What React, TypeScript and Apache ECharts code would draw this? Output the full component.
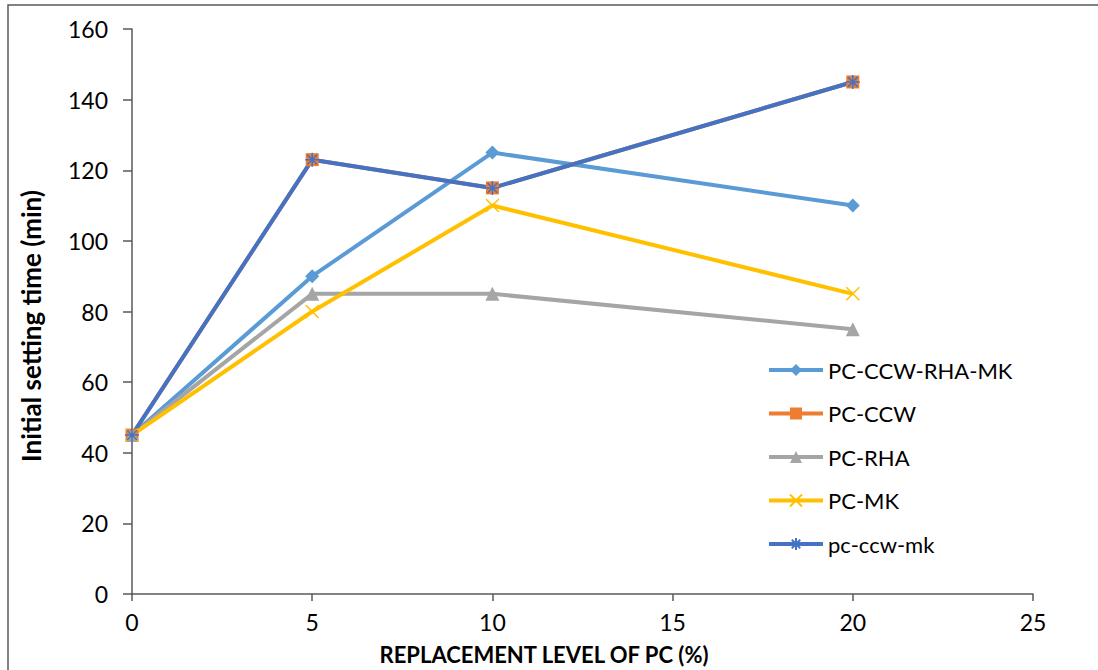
import React, { useEffect, useRef } from "react";
import * as echarts from "echarts";

const replacementLevels = [0, 5, 10, 20];
const seriesNames = ["PC-CCW-RHA-MK", "PC-CCW", "PC-RHA", "PC-MK", "pc-ccw-mk"];
const pcCcwRhaMk = [45, 90, 125, 110];
const pcCcw = [45, 123, 115, 145];
const pcRha = [45, 85, 85, 75];
const pcMk = [45, 80, 110, 85];
const pcCcwMk = [45, 123, 115, 145];
const yTicks = { min: 0, max: 160, interval: 20 };
const xTicks = { min: 0, max: 25, interval: 5 };
const xTitle = "REPLACEMENT LEVEL OF PC (%)";
const yTitle = "Initial setting time (min)";

const FONT = "Lato, 'Noto Sans', sans-serif";
const AXIS_COLOR = "#595959";

const crossSymbol = "path://M-5,-5L5,5M-5,5L5,-5";
const starSymbol = "path://M0,-6L0,6M-6,0L6,0M-4.2,-4.2L4.2,4.2M-4.2,4.2L4.2,-4.2";

const pairs = (vals: number[]) => replacementLevels.map((x, i) => [x, vals[i]]);

export default function App() {
  const ref = useRef<HTMLDivElement>(null);

  useEffect(() => {
    document.body.style.margin = "0";
    if (!ref.current) return;
    const chart = echarts.init(ref.current, undefined, { renderer: "svg" });

    const lineSeries = (
      name: string,
      vals: number[],
      color: string,
      symbol: string,
      symbolSize: number,
      stroked = false
    ) => ({
      name,
      type: "line",
      data: pairs(vals),
      symbol,
      symbolSize,
      showAllSymbol: true,
      lineStyle: { color, width: 4 },
      itemStyle: stroked
        ? { color: "rgba(0,0,0,0)", borderColor: color, borderWidth: 1.5 }
        : { color, borderColor: color, borderWidth: 0 },
      emphasis: { disabled: true },
    });

    const titleStyle = { fontFamily: FONT, fontWeight: "bold", fill: "#000" };

    chart.setOption({
      animation: false,
      backgroundColor: "#ffffff",
      textStyle: { fontFamily: FONT },
      grid: { left: 132, right: 65, top: 29, bottom: 76 },
      graphic: [
        {
          type: "rect",
          shape: { x: 8, y: 5, width: 1200, height: 800 },
          style: { fill: "none", stroke: AXIS_COLOR, lineWidth: 1.5 },
          silent: true,
          z: -1,
        },
        {
          type: "text",
          x: 544,
          y: 654,
          style: {
            ...titleStyle,
            text: xTitle,
            fontSize: 22,
            lineHeight: 22,
            align: "center",
            verticalAlign: "middle",
          },
          silent: true,
        },
        {
          type: "text",
          x: 31,
          y: 326,
          rotation: Math.PI / 2,
          style: { ...titleStyle, text: yTitle, fontSize: 26, align: "center", verticalAlign: "middle" },
          silent: true,
        },
      ],
      legend: {
        orient: "vertical",
        left: 762,
        top: 354,
        itemWidth: 54,
        itemHeight: 15,
        itemGap: 21.5,
        data: seriesNames.map((name) => ({ name, lineStyle: { width: 4 } })),
        lineStyle: { width: 4 },
        textStyle: { fontFamily: FONT, fontSize: 22, color: "#000", lineHeight: 20 },
      },
      xAxis: {
        type: "value",
        min: xTicks.min,
        max: xTicks.max,
        interval: xTicks.interval,
        axisLine: { show: true, lineStyle: { color: AXIS_COLOR, width: 1.5 } },
        axisTick: { show: true, length: 7, lineStyle: { color: AXIS_COLOR, width: 1.5 } },
        axisLabel: { fontFamily: FONT, fontSize: 23, lineHeight: 20, color: "#000", margin: 18 },
        splitLine: { show: false },
      },
      yAxis: {
        type: "value",
        min: yTicks.min,
        max: yTicks.max,
        interval: yTicks.interval,
        axisLine: { show: true, lineStyle: { color: AXIS_COLOR, width: 1.5 } },
        axisTick: { show: true, length: 9, lineStyle: { color: AXIS_COLOR, width: 1.5 } },
        axisLabel: { fontFamily: FONT, fontSize: 23, color: "#000", margin: 24 },
        splitLine: { show: false },
      },
      series: [
        lineSeries(seriesNames[0], pcCcwRhaMk, "#5B9BD5", "diamond", 14),
        lineSeries(seriesNames[1], pcCcw, "#ED7D31", "rect", 13),
        lineSeries(seriesNames[2], pcRha, "#A5A5A5", "triangle", 14),
        lineSeries(seriesNames[3], pcMk, "#FFC000", crossSymbol, 13, true),
        lineSeries(seriesNames[4], pcCcwMk, "#4472C4", starSymbol, 14, true),
      ],
    });

    return () => chart.dispose();
  }, []);

  return <div ref={ref} style={{ width: 1098, height: 670 }} />;
}
